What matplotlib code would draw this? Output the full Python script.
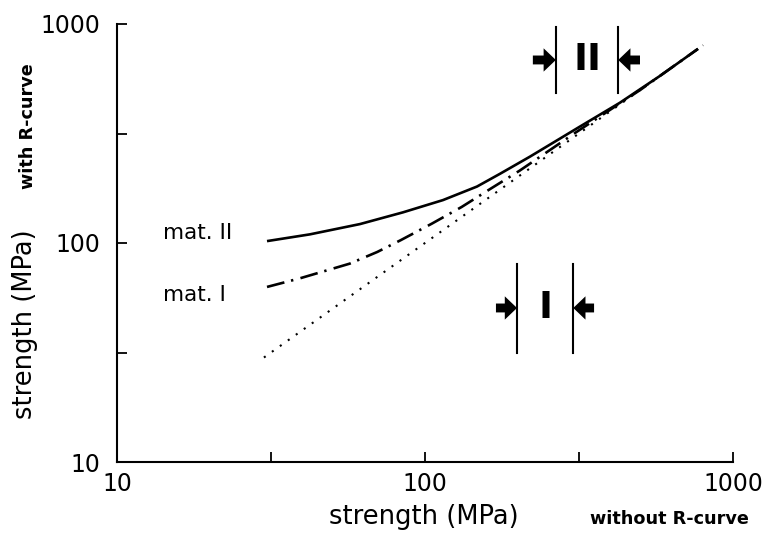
import matplotlib
matplotlib.use("Agg")
import matplotlib.pyplot as plt
from matplotlib.ticker import FixedLocator, FixedFormatter, NullLocator

# ---- data ----
ref_x = [30, 800]                 # no R-curve: strength equals itself
ref_y = [30, 800]

mat2_x = [30.7, 42.3, 61.5, 84.8, 114.4, 147.5, 175.2, 219.3, 318.4, 429.5, 579, 770]
mat2_y = [102, 109.5, 122, 138, 157, 181, 207, 248, 340, 437, 579, 770]

mat1_x = [30.7, 39.3, 57, 70, 83.4, 105.2, 131.5, 162.9, 203, 307, 500, 770]
mat1_y = [63, 69, 80.5, 91, 103, 122.5, 146, 176.5, 214, 318, 500, 770]

tick_vals = [10, 31.6, 100, 316, 1000]
tick_labels = ["10", "", "100", "", "1000"]

# bracket annotations (data coordinates)
brI_x = [199, 303]
brI_y = [31.5, 80]
brI_arrow_y = 50.5
brI_tail = [170, 354]

brII_x = [266, 424]
brII_y = [484, 968]
brII_arrow_y = 685
brII_tail = [224, 499]

fig = plt.figure(figsize=(7.68, 5.33), dpi=100)
ax = fig.add_axes([0.1523, 0.1332, 0.8021, 0.8218])
ax.set_xscale("log")
ax.set_yscale("log")
ax.set_xlim(10, 1000)
ax.set_ylim(10, 1000)

ax.plot(ref_x, ref_y, color="black", lw=1.5, linestyle=(0, (1, 3.7)))
ax.plot(mat2_x, mat2_y, color="black", lw=1.9, solid_capstyle="butt",
        solid_joinstyle="round")
ax.plot(mat1_x, mat1_y, color="black", lw=1.9, linestyle=(0, (6.8, 2.6, 0.9, 2.8)))

for s in ["top", "right"]:
    ax.spines[s].set_visible(False)
for s in ["left", "bottom"]:
    ax.spines[s].set_linewidth(1.5)

for axis in (ax.xaxis, ax.yaxis):
    axis.set_major_locator(FixedLocator(tick_vals))
    axis.set_major_formatter(FixedFormatter(tick_labels))
    axis.set_minor_locator(NullLocator())
ax.tick_params(axis="both", which="major", direction="in", length=7.5, width=1.3,
               labelsize=17)
ax.tick_params(axis="y", pad=12)
ax.tick_params(axis="x", pad=7)

ax.set_xlabel("strength (MPa)", fontsize=18.5, va="center")
ax.set_ylabel("strength (MPa)", fontsize=18.5, va="center")
ax.xaxis.set_label_coords(0.498, -0.1256)
ax.yaxis.set_label_coords(-0.149, 0.315)

fig.text(590 / 768, 1 - 519 / 533, "without R-curve", fontsize=12.7,
         fontweight="bold", ha="left", va="center")
fig.text(28 / 768, 1 - 126 / 533, "with R-curve", fontsize=12.7,
         fontweight="bold", ha="center", va="center", rotation=90)

fig.text(163 / 768, 1 - 233 / 533, "mat. II", fontsize=15.5, ha="left", va="center")
fig.text(163 / 768, 1 - 295 / 533, "mat. I", fontsize=15.5, ha="left", va="center")

arrowstyle = "simple,head_length=0.55,head_width=1.05,tail_width=0.4"

def bracket(xs, ys, ay, tails, label):
    for x in xs:
        ax.plot([x, x], ys, color="black", lw=1.5)
    for x, t in zip(xs, tails):
        ax.annotate("", xy=(x, ay), xytext=(t, ay),
                    arrowprops=dict(arrowstyle=arrowstyle, color="black",
                                    mutation_scale=16, shrinkA=0, shrinkB=0, lw=0))
    xm = (xs[0] * xs[1]) ** 0.5
    ax.text(xm, ay, label, fontsize=27, fontweight="bold", ha="center", va="center")

bracket(brI_x, brI_y, brI_arrow_y, brI_tail, "I")
bracket(brII_x, brII_y, brII_arrow_y, brII_tail, "II")

fig.savefig("out.png", dpi=100)
